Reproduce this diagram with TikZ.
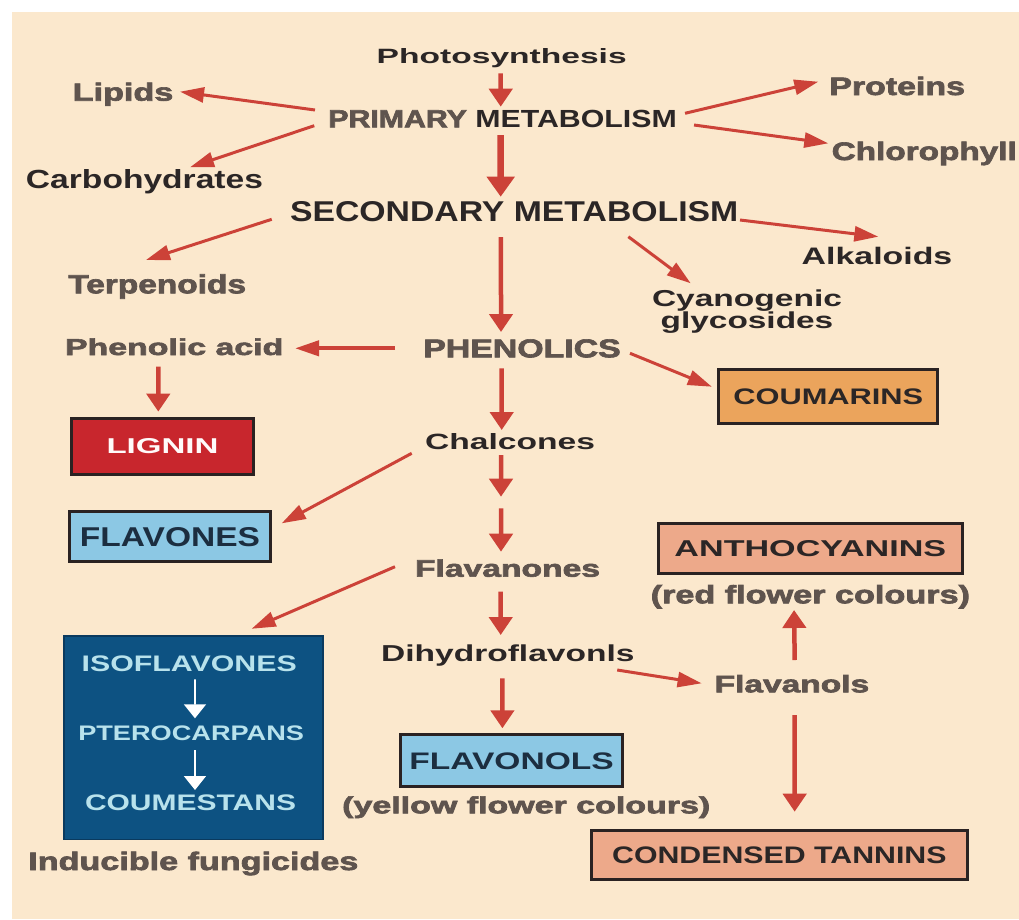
\documentclass[tikz,border=0pt]{standalone}
\usepackage{fontspec}
\setmainfont{Liberation Sans}
\newfontfamily\heavy{Liberation Sans}[FakeBold=2.4]
\usetikzlibrary{arrows.meta}
\definecolor{bg}{HTML}{FBE8CD}
\definecolor{arr}{HTML}{CC4238}
\definecolor{gtext}{HTML}{5F544E}
\definecolor{dtext}{HTML}{2B2626}
\definecolor{lig}{HTML}{C8262D}
\definecolor{lblue}{HTML}{8CC8E4}
\definecolor{coum}{HTML}{EBA45C}
\definecolor{salm}{HTML}{EDA98A}
\definecolor{dblue}{HTML}{0D5282}
\definecolor{dblueb}{HTML}{0A3A5E}
\definecolor{itext}{HTML}{B8E2EC}
\definecolor{bord}{HTML}{2A2222}
\definecolor{navy}{HTML}{1C2E40}
\newcommand\fit[3]{\resizebox{#1pt}{#2pt}{#3}}
\begin{document}
\begin{tikzpicture}[x=1pt,y=-1pt,
  dk/.style={inner sep=0pt, outer sep=0pt, text=dtext, font=\fontsize{20}{24}\selectfont\bfseries},
  gy/.style={inner sep=0pt, outer sep=0pt, text=gtext, font=\fontsize{20}{24}\selectfont\heavy\bfseries},
  box/.style={draw=bord, line width=3pt, inner sep=0pt, outer sep=0pt, text=dtext, font=\fontsize{20}{24}\selectfont\bfseries},
  arrd/.style={draw=arr, line width=3pt, -{Triangle[length=24pt,width=15pt]}},
  arrv/.style={draw=arr, line width=4.5pt, -{Triangle[length=18pt,width=23pt]}},
  arrt/.style={draw=arr, line width=6.5pt, -{Triangle[length=20pt,width=27pt]}},
  arrw/.style={draw=white, line width=1.6pt, -{Triangle[length=14pt,width=22pt]}}]
\useasboundingbox (0,0) rectangle (1019,919);
\clip (0,0) rectangle (1019,919);
\fill[white] (0,0) rectangle (1019,919);
\fill[bg] (12,12) rectangle (1019,919);

% text labels
\node[dk, anchor=base west] (photo) at (376.7,63.3) {\fit{250}{15}{Photosynthesis}};
\node[dk, anchor=base west] (prim) at (328.3,127.3) {\fit{348.4}{17.3}{{\color{gtext}\heavy\bfseries PRIMARY} METABOLISM}};
\node[gy, anchor=base west] (lip) at (72.7,100.7) {\fit{100.6}{18}{Lipids}};
\node[gy, anchor=base west] (prot) at (829.3,95) {\fit{135.7}{18.3}{Proteins}};
\node[gy, anchor=base west] (chl) at (831.7,160) {\fit{185}{18.3}{Chlorophyll}};
\node[dk, anchor=base west] (carb) at (26,188.3) {\fit{237}{19}{Carbohydrates}};
\node[dk, anchor=base west] (sec) at (290,221.7) {\fit{448.3}{20}{SECONDARY METABOLISM}};
\node[gy, anchor=base west] (terp) at (68.3,293.3) {\fit{177.7}{19}{Terpenoids}};
\node[dk, anchor=base west] (alk) at (801.7,264) {\fit{150.6}{17.3}{Alkaloids}};
\node[dk, anchor=north, align=center, font=\fontsize{20}{21.6}\selectfont\bfseries] (cyan) at (747,290) {\fit{190}{16.7}{Cyanogenic}\\\fit{172.6}{16.7}{glycosides}};
\node[gy, anchor=base west] (phac) at (65,355) {\fit{218.3}{16.7}{Phenolic acid}};
\node[gy, anchor=base west] (phen) at (423.3,357.3) {\fit{197.4}{18}{PHENOLICS}};
\node[dk, anchor=base west] (chal) at (425,449.3) {\fit{170}{16}{Chalcones}};
\node[gy, anchor=base west] (flan) at (415,576.7) {\fit{185}{17.3}{Flavanones}};
\node[dk, anchor=base west] (dih) at (381.1,661.7) {\fit{253.4}{16.7}{Dihydroflavonls}};
\node[gy, anchor=base west] (fla) at (714.6,692.3) {\fit{154.6}{17.3}{Flavanols}};
\node[gy, anchor=base west] (red) at (650.7,603.3) {\fit{319.3}{18.3}{(red flower colours)}};
\node[gy, anchor=base west] (yel) at (342.2,813.3) {\fit{368}{17}{(yellow flower colours)}};
\node[gy, anchor=base west] (ind) at (28.3,870) {\fit{330}{18.3}{Inducible fungicides}};

% boxes
\node[box, fill=coum, minimum width=219pt, minimum height=53.7pt] (coum) at (828.3,396.7) {\fit{190}{15.7}{COUMARINS}};
\node[box, fill=lig, text=white!92!pink, minimum width=182pt, minimum height=56.3pt] (lig) at (162.5,446.3) {\fit{112}{15}{LIGNIN}};
\node[box, fill=lblue, text=navy, minimum width=200.4pt, minimum height=50.3pt] (flv) at (170,536.7) {\fit{180}{19}{FLAVONES}};
\node[box, fill=salm, minimum width=304.3pt, minimum height=50.3pt] (anth) at (810.35,548.35) {\fit{271.7}{16}{ANTHOCYANINS}};
\node[box, fill=lblue, text=navy, minimum width=221.4pt, minimum height=52pt] (flo) at (511.5,760.8) {\fit{204.4}{16.7}{FLAVONOLS}};
\node[box, fill=salm, minimum width=375.9pt, minimum height=48.4pt] (tan) at (779.35,855) {\fit{334.4}{16.7}{CONDENSED TANNINS}};
\node[box, draw=dblueb, line width=1.5pt, fill=dblue, minimum width=259pt, minimum height=203.5pt] (iso) at (193.65,737.5) {};
\node[dk, text=itext, anchor=base west] (iso1) at (81.7,671.7) {\fit{215}{15.7}{ISOFLAVONES}};
\node[dk, text=itext, anchor=base west] (iso2) at (78.3,740.7) {\fit{225.7}{14.7}{PTEROCARPANS}};
\node[dk, text=itext, anchor=base west] (iso3) at (85,810.7) {\fit{211}{15.7}{COUMESTANS}};
\coordinate (cm) at (501,502.5);

% arrows
\draw[arrv] ([shift={(-1,10)}]photo.base) -- ([shift={(-1.8,-3.3)}]prim.north);
\draw[arrt] ([shift={(-1.8,7.7)}]prim.base) -- ([shift={(-13.5,-5)}]sec.north);
\draw[arrd] ([shift={(-13.3,0)}]prim.north west) -- ([shift={(6.7,-9)}]lip.base east);
\draw[arrd] ([shift={(-14,-1.6)}]prim.base west) -- ([shift={(45.5,-2)}]carb.north);
\draw[arrd] ([shift={(8.3,3.3)}]prim.north east) -- ([shift={(-11,-13.3)}]prot.base west);
\draw[arrd] ([shift={(17.3,-2.3)}]prim.base east) -- ([shift={(-3.4,-16.7)}]chl.base west);
\draw[arrd] ([shift={(-18.3,-2.4)}]sec.base west) -- ([shift={(-11.2,-14.3)}]terp.north);
\draw[arrd] ([shift={(1.7,-1.7)}]sec.base east) -- ([shift={(1.3,-10)}]alk.north);
\draw[arrd] ([shift={(-110,15)}]sec.base east) -- ([shift={(-56.3,-6.7)}]cyan.north);
\draw[arrv] ([shift={(-13.2,15.3)}]sec.base) -- ([shift={(-21,-7.3)}]phen.north);
\draw[arrd, line width=4pt] ([shift={(-28.3,-9)}]phen.base west) -- ([shift={(11.7,-6.7)}]phac.base east);
\draw[arrd] ([shift={(9.3,-4)}]phen.base east) -- ([shift={(-7,-10)}]coum.west);
\draw[arrv] ([shift={(-15.9,11.7)}]phac.base) -- ([shift={(-4.2,-6.5)}]lig.north);
\draw[arrv] ([shift={(-20.3,11)}]phen.base) -- ([shift={(-8.3,-3.3)}]chal.north);
\draw[arrd] ([shift={(-13.3,4)}]chal.base west) -- ([shift={(11.5,-13.4)}]flv.east);
\draw[arrv] ([shift={(-9,5.7)}]chal.base) -- ([shift={(0,-5.8)}]cm);
\draw[arrv] ([shift={(0,5.8)}]cm) -- ([shift={(-6.5,-7.7)}]flan.north);
\draw[arrd] ([shift={(-20,-10)}]flan.base west) -- ([shift={(58,-7)}]iso.north);
\draw[arrv] ([shift={(-6.8,15)}]flan.base) -- ([shift={(-7.1,-10)}]dih.north);
\draw[arrv] ([shift={(-5.4,16.6)}]dih.base) -- ([shift={(-9.1,-6.5)}]flo.north);
\draw[arrd] ([shift={(-17.3,8.3)}]dih.base east) -- ([shift={(-13,-9)}]fla.base west);
\draw[arrv] ([shift={(2.8,-15)}]fla.north) -- ([shift={(-16.3,6.7)}]red.base);
\draw[arrv] ([shift={(2.8,22.7)}]fla.base) -- ([shift={(15.3,-19.1)}]tan.north);
\draw[arrw] ([shift={(5.8,7.6)}]iso1.base) -- ([shift={(3.8,-7.7)}]iso2.north);
\draw[arrw] ([shift={(3.8,9.3)}]iso2.base) -- ([shift={(4.5,-5)}]iso3.north);
\end{tikzpicture}
\end{document}
